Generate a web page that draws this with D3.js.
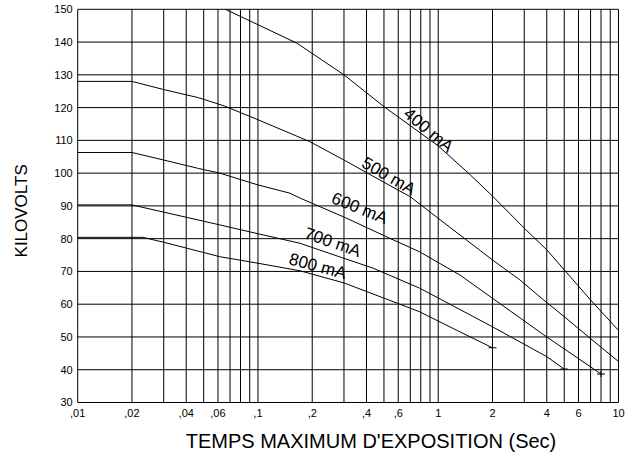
<!DOCTYPE html>
<html>
<head>
<meta charset="utf-8">
<script src="https://cdn.jsdelivr.net/npm/d3@7"></script>
<style>
  body { margin: 0; background: #fff; }
  svg { display: block; font-family: "Liberation Sans", Arial, sans-serif; }
</style>
</head>
<body>
<div id="chart"></div>
<script>
// Curve data: exposure time (s) and kilovolts
const series = ["400 mA", "500 mA", "600 mA", "700 mA", "800 mA"];

const t400 = [0.066, 0.1, 0.164, 0.3, 0.5, 1, 1.47, 2, 3, 4, 5, 7, 10];
const kv400 = [150, 145.3, 139.7, 130, 120.3, 108.3, 100, 93, 83.2, 76.6, 70.5, 61.3, 52];

const t500 = [0.01, 0.02, 0.03, 0.047, 0.065, 0.1, 0.194, 0.3, 0.5, 0.7, 1, 2, 2.84, 3.82, 5, 7, 10];
const kv500 = [128, 128, 125.5, 123, 120.5, 116.3, 109.6, 104, 97.2, 92.8, 86.2, 73.5, 67.4, 61.4, 56.2, 49.5, 42.5];

const t600 = [0.01, 0.02, 0.03, 0.047, 0.0614, 0.1, 0.15, 0.171, 0.3, 0.539, 0.788, 1.32, 2.06, 4, 8];
const kv600 = [106.3, 106.3, 104, 101.4, 100, 96.4, 93.9, 92.4, 86.6, 80.1, 76, 68.9, 61.3, 50, 38.7];

const t700 = [0.01, 0.02, 0.03, 0.0614, 0.1, 0.171, 0.3, 0.435, 0.788, 1, 2, 4, 5];
const kv700 = [90.3, 90.3, 88.1, 84.2, 81.5, 78.6, 74, 71, 64.9, 61.9, 53.1, 44, 40.2];

const t800 = [0.01, 0.023, 0.03, 0.0614, 0.1, 0.171, 0.3, 0.788, 1.26, 2];
const kv800 = [80.4, 80.4, 78.9, 74.5, 72.5, 70.2, 66.5, 57.7, 52.1, 46.7];

const endMarks = ["none", "none", "cross", "dash", "dash"];

// Curve labels (position in data units, rotation in degrees)
const labelT = [0.887, 0.532, 0.367, 0.26, 0.215];
const labelKV = [113.2, 99.2, 89.4, 79.0, 71.7];
const labelAngle = [40, 30, 22, 19, 15];

// Axes
const xTicks = [0.01, 0.02, 0.04, 0.06, 0.1, 0.2, 0.4, 0.6, 1, 2, 4, 6, 10];
const xTickLabels = [",01", ",02", ",04", ",06", ",1", ",2", ",4", ",6", "1", "2", "4", "6", "10"];
const yTicks = [30, 40, 50, 60, 70, 80, 90, 100, 110, 120, 130, 140, 150];

const W = 633, H = 457;
const svg = d3.select("#chart").append("svg")
    .attr("width", W)
    .attr("height", H);

const x = d3.scaleLog().domain([0.01, 10]).range([77.7, 618.5]);
const y = d3.scaleLinear().domain([30, 150]).range([402.5, 9.3]);

// vertical grid: every 1..9 of each decade
const xGrid = [];
[0.01, 0.1, 1].forEach(base => {
    for (let i = 1; i <= 9; i++) xGrid.push(+(base * i).toPrecision(3));
});
xGrid.push(10);

svg.append("g")
    .selectAll("line")
    .data(xGrid)
    .join("line")
    .attr("x1", d => x(d))
    .attr("x2", d => x(d))
    .attr("y1", y(30))
    .attr("y2", y(150))
    .attr("stroke", "#000")
    .attr("stroke-width", 1);

svg.append("g")
    .selectAll("line")
    .data(yTicks)
    .join("line")
    .attr("x1", x(0.01))
    .attr("x2", x(10))
    .attr("y1", d => y(d))
    .attr("y2", d => y(d))
    .attr("stroke", "#000")
    .attr("stroke-width", 1);

// y tick labels
svg.append("g")
    .selectAll("text")
    .data(yTicks)
    .join("text")
    .attr("x", x(0.01) - 5)
    .attr("y", d => y(d))
    .attr("dy", "0.36em")
    .attr("text-anchor", "end")
    .style("font-size", "11px")
    .text(d => d);

// x tick labels
svg.append("g")
    .selectAll("text")
    .data(xTicks)
    .join("text")
    .attr("x", d => x(d))
    .attr("y", y(30) + 14)
    .attr("text-anchor", "middle")
    .style("font-size", "11px")
    .text((d, i) => xTickLabels[i]);

// curves
const times = [t400, t500, t600, t700, t800];
const volts = [kv400, kv500, kv600, kv700, kv800];
const line = d3.line().x(d => x(d[0])).y(d => y(d[1]));

series.forEach((name, i) => {
    const pts = times[i].map((t, j) => [t, volts[i][j]]);
    svg.append("path")
        .datum(pts)
        .attr("d", line)
        .attr("fill", "none")
        .attr("stroke", "#000")
        .attr("stroke-width", 1);

    const last = pts[pts.length - 1];
    if (endMarks[i] !== "none") {
        svg.append("line")
            .attr("x1", x(last[0]) - 4).attr("x2", x(last[0]) + 4)
            .attr("y1", y(last[1])).attr("y2", y(last[1]))
            .attr("stroke", "#000");
    }
    if (endMarks[i] === "cross") {
        svg.append("line")
            .attr("x1", x(last[0])).attr("x2", x(last[0]))
            .attr("y1", y(last[1]) - 3).attr("y2", y(last[1]) + 3)
            .attr("stroke", "#000");
    }

    svg.append("text")
        .attr("transform", `translate(${x(labelT[i])},${y(labelKV[i])}) rotate(${labelAngle[i]})`)
        .attr("text-anchor", "middle")
        .attr("dy", "0.35em")
        .style("font-size", "17px")
        .text(name);
});

// axis titles
svg.append("text")
    .attr("x", 371)
    .attr("y", 448)
    .attr("text-anchor", "middle")
    .style("font-size", "20px")
    .text("TEMPS MAXIMUM D'EXPOSITION (Sec)");

svg.append("text")
    .attr("transform", `translate(27,${(156.7 + 265) / 2}) rotate(-90)`)
    .attr("text-anchor", "middle")
    .style("font-size", "17px")
    .text("KILOVOLTS");
</script>
</body>
</html>
